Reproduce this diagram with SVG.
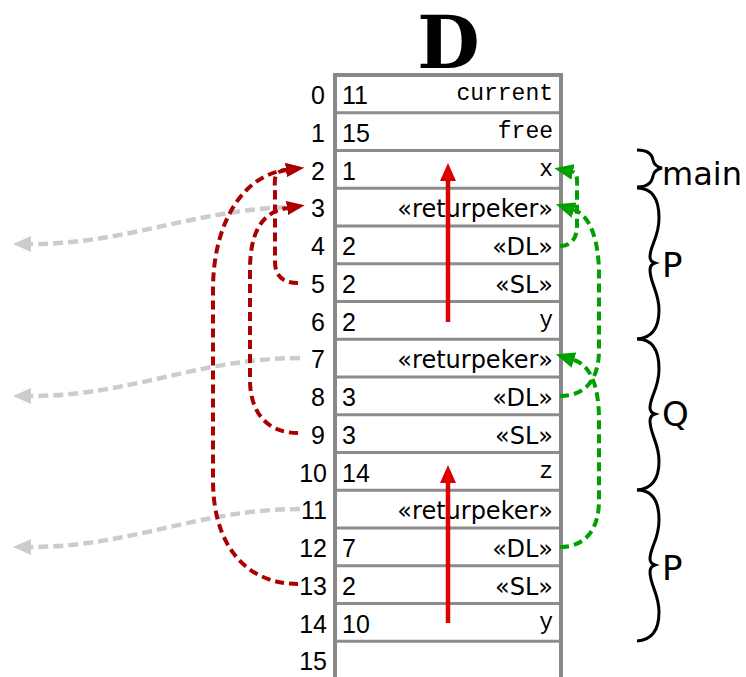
<svg xmlns="http://www.w3.org/2000/svg" width="746" height="677" viewBox="0 0 746 677">
<style>
.num{font-family:"Liberation Sans","DejaVu Sans",sans-serif;font-size:25px;fill:#000}
.lab{font-family:"DejaVu Sans","Liberation Sans",sans-serif;font-size:24px;fill:#000}
.mono{font-family:"Liberation Mono","Courier New",monospace;font-size:23px;fill:#000}
.idx{text-anchor:end}
.r{text-anchor:end}
.sep{stroke:#8c8c8c;stroke-width:3}
.dr{fill:none;stroke:#aa0000;stroke-width:4;stroke-dasharray:9 5}
.gr{fill:none;stroke:#00a000;stroke-width:4;stroke-dasharray:9 5}
.gy{fill:none;stroke:#cccccc;stroke-width:4.5;stroke-dasharray:10 5}
.rs{fill:none;stroke:#dd0000;stroke-width:4.5}
.brace{fill:none;stroke:#000;stroke-width:3}
.bl{font-family:"DejaVu Sans","Liberation Sans",sans-serif;fill:#000}
</style>
<defs>
<marker id="mdr" markerUnits="userSpaceOnUse" markerWidth="19" markerHeight="14" refX="0" refY="7" orient="auto"><path d="M0,0 L18,7 L0,14 z" fill="#aa0000"/></marker>
<marker id="mgr" markerUnits="userSpaceOnUse" markerWidth="20" markerHeight="16" refX="0" refY="8" orient="auto"><path d="M0,0 L19,8 L0,16 z" fill="#00a000"/></marker>
<marker id="mgy" markerUnits="userSpaceOnUse" markerWidth="19" markerHeight="16" refX="0" refY="8" orient="auto"><path d="M0,0 L18,8 L0,16 z" fill="#cccccc"/></marker>
<marker id="mrs" markerUnits="userSpaceOnUse" markerWidth="19" markerHeight="16" refX="0" refY="8" orient="auto"><path d="M0,0 L18,8 L0,16 z" fill="#dd0000"/></marker>
</defs>
<rect width="746" height="677" fill="#fff"/>
<text x="448.5" y="68" text-anchor="middle" font-family="'DejaVu Serif','Liberation Serif',serif" font-weight="bold" font-size="72">D</text>
<g id="table">
<path d="M335,690 L335,75 L561,75 L561,690" fill="none" stroke="#888" stroke-width="4"/>
<g class="sep">
<line x1="337" x2="559" y1="112.75" y2="112.75"/>
<line x1="337" x2="559" y1="150.5" y2="150.5"/>
<line x1="337" x2="559" y1="188.25" y2="188.25"/>
<line x1="337" x2="559" y1="226" y2="226"/>
<line x1="337" x2="559" y1="263.75" y2="263.75"/>
<line x1="337" x2="559" y1="301.5" y2="301.5"/>
<line x1="337" x2="559" y1="339.25" y2="339.25"/>
<line x1="337" x2="559" y1="377" y2="377"/>
<line x1="337" x2="559" y1="414.75" y2="414.75"/>
<line x1="337" x2="559" y1="452.5" y2="452.5"/>
<line x1="337" x2="559" y1="490.25" y2="490.25"/>
<line x1="337" x2="559" y1="528" y2="528"/>
<line x1="337" x2="559" y1="565.75" y2="565.75"/>
<line x1="337" x2="559" y1="603.5" y2="603.5"/>
<line x1="337" x2="559" y1="641.25" y2="641.25"/>
</g>
</g>
<g id="row0"><text class="num idx" x="325" y="104">0</text><text class="num" x="342" y="104">11</text><text class="mono r" x="553" y="100">current</text></g>
<g id="row1"><text class="num idx" x="325" y="141.75">1</text><text class="num" x="342" y="141.75">15</text><text class="mono r" x="553" y="137.75">free</text></g>
<g id="row2"><text class="num idx" x="325" y="179.5">2</text><text class="num" x="342" y="179.5">1</text><text class="mono r" x="553" y="175.5">x</text></g>
<g id="row3"><text class="num idx" x="325" y="217.25">3</text><text class="lab r" x="553" y="217.25">«returpeker»</text></g>
<g id="row4"><text class="num idx" x="325" y="255">4</text><text class="num" x="342" y="255">2</text><text class="lab r" x="553" y="255">«DL»</text></g>
<g id="row5"><text class="num idx" x="325" y="292.75">5</text><text class="num" x="342" y="292.75">2</text><text class="lab r" x="553" y="292.75">«SL»</text></g>
<g id="row6"><text class="num idx" x="325" y="330.5">6</text><text class="num" x="342" y="330.5">2</text><text class="mono r" x="553" y="326.5">y</text></g>
<g id="row7"><text class="num idx" x="325" y="368.25">7</text><text class="lab r" x="553" y="368.25">«returpeker»</text></g>
<g id="row8"><text class="num idx" x="325" y="406">8</text><text class="num" x="342" y="406">3</text><text class="lab r" x="553" y="406">«DL»</text></g>
<g id="row9"><text class="num idx" x="325" y="443.75">9</text><text class="num" x="342" y="443.75">3</text><text class="lab r" x="553" y="443.75">«SL»</text></g>
<g id="row10"><text class="num idx" x="327" y="481.5">10</text><text class="num" x="342" y="481.5">14</text><text class="mono r" x="553" y="477.5">z</text></g>
<g id="row11"><text class="num idx" x="327" y="519.25">11</text><text class="lab r" x="553" y="519.25">«returpeker»</text></g>
<g id="row12"><text class="num idx" x="327" y="557">12</text><text class="num" x="342" y="557">7</text><text class="lab r" x="553" y="557">«DL»</text></g>
<g id="row13"><text class="num idx" x="327" y="594.75">13</text><text class="num" x="342" y="594.75">2</text><text class="lab r" x="553" y="594.75">«SL»</text></g>
<g id="row14"><text class="num idx" x="327" y="632.5">14</text><text class="num" x="342" y="632.5">10</text><text class="mono r" x="553" y="628.5">y</text></g>
<g id="row15"><text class="num idx" x="327" y="670.25">15</text></g>
<g id="braces">
<path class="brace" d="M637,150 C648,150 652,154 653,160 C654,165 657,167 662,168 C657,169 654,171 653,176 C652,182 648,187 637,187"/>
<text class="bl" x="662" y="185" font-size="32">main</text>
<path class="brace" d="M637,188 C652,188 659,198 659,218 C659,238 650,245 650,257 C650,260 652,262 655,263 C652,264 650,266 650,270 C650,283 659,292 659,310 C659,328 652,338 637,339"/>
<text class="bl" x="662" y="277" font-size="34">P</text>
<path class="brace" d="M637,339 C652,339 659,349 659,369 C659,389 650,396 650,408 C650,411 652,413 655,414 C652,415 650,417 650,421 C650,434 659,443 659,461 C659,479 652,489 637,490"/>
<text class="bl" x="662" y="426" font-size="34">Q</text>
<path class="brace" d="M637,490 C652,490 659,500 659,520 C659,540 650,547 650,559 C650,562 652,564 655,565 C652,566 650,568 650,572 C650,585 659,594 659,612 C659,630 652,640 637,641"/>
<text class="bl" x="662" y="580" font-size="34">P</text>
</g>
<g id="connectors">
<path class="rs" d="M448,322 L448,181" marker-end="url(#mrs)"/>
<path class="rs" d="M448,623 L448,483" marker-end="url(#mrs)"/>
<path class="gy" d="M300,207 C200,207 130,244 31,244" marker-end="url(#mgy)"/>
<path class="gy" d="M300,358 C200,358 130,396 31,396" marker-end="url(#mgy)"/>
<path class="gy" d="M300,509 C200,509 130,547 31,547" marker-end="url(#mgy)"/>
<path class="dr" d="M298,283 C282,283 275,275 275,262 L275,195 C275,180 272,171.7 286,170" marker-end="url(#mdr)"/>
<path class="dr" d="M298,433 C265,433 250,410 250,380 L250,270 C250,232 262,212 287,208" marker-end="url(#mdr)"/>
<path class="dr" d="M298,584 C250,584 213,550 213,480 L213,290 C213,220 245,175 286,170" marker-end="url(#mdr)"/>
<path class="gr" d="M560,246 C572,246 577,238 577,225 L577,195 C577,180 578,173 573,172" marker-end="url(#mgr)"/>
<path class="gr" d="M560,396 C585,396 599,380 599,350 L599,275 C599,240 590,215 574,210" marker-end="url(#mgr)"/>
<path class="gr" d="M560,547 C585,547 599,530 599,500 L599,420 C599,385 590,365 574,360" marker-end="url(#mgr)"/>
</g>
</svg>
